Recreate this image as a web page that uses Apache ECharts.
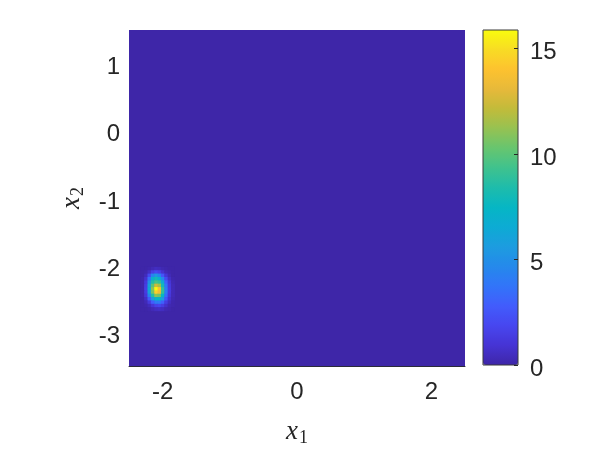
<!DOCTYPE html>
<html lang="en">
<head>
    <meta charset="UTF-8">
    <title>density</title>
    <script src="https://cdn.jsdelivr.net/npm/echarts@6/dist/echarts.min.js"></script>
    <style>
        html, body { margin: 0; padding: 0; background: #fff; }
    </style>
</head>
<body>
<div id="main" style="width: 598px;height: 461px"></div>
<script>
    // grid of the density around the peak, everything outside is 0
    var xCells = [-2.30, -2.25, -2.20, -2.15, -2.10, -2.05, -2.00, -1.95, -1.90, -1.85];
    var yCells = [-2.05, -2.10, -2.15, -2.20, -2.25, -2.30, -2.35, -2.40, -2.45, -2.50, -2.55, -2.60, -2.65];
    var density = [
        [0,   0,   0.1, 0.3,  0.5,  0.4,  0.2, 0.1, 0,   0  ],
        [0,   0.1, 0.6, 1.5,  2.0,  1.6,  0.8, 0.3, 0.1, 0  ],
        [0,   0.4, 2.0, 4.5,  5.5,  4.5,  2.5, 1.0, 0.3, 0  ],
        [0.1, 0.8, 3.5, 7.0,  8.0,  7.0,  4.5, 2.0, 0.6, 0.1],
        [0.1, 1.2, 5.0, 8.5,  9.5,  9.0,  6.5, 3.0, 1.0, 0.2],
        [0.1, 1.4, 6.0, 10.0, 12.5, 11.5, 8.0, 3.8, 1.2, 0.3],
        [0.1, 1.5, 6.5, 11.0, 15.9, 14.0, 9.0, 4.2, 1.3, 0.3],
        [0.1, 1.4, 6.0, 10.5, 14.5, 13.5, 9.0, 4.2, 1.3, 0.3],
        [0.1, 1.1, 4.5, 8.5,  11.0, 10.5, 7.5, 3.5, 1.1, 0.3],
        [0,   0.6, 2.8, 5.5,  7.5,  7.5,  5.5, 2.5, 0.8, 0.2],
        [0,   0.3, 1.2, 2.8,  4.0,  4.0,  3.0, 1.4, 0.5, 0.1],
        [0,   0.1, 0.4, 1.0,  1.6,  1.8,  1.4, 0.7, 0.2, 0.1],
        [0,   0,   0.1, 0.3,  0.5,  0.6,  0.5, 0.2, 0.1, 0  ]
    ];
    var cellSize = 0.05;
    var xRange = [-2.5, 2.5];
    var yRange = [-3.5, 1.5];
    var xTicks = [-2, 0, 2];
    var yTicks = [-3, -2, -1, 0, 1];
    var cbRange = [0, 15.87];
    var cbStep = 5; // colorbar ticks 0 5 10 15

    var parula = ['#3e26a8', '#4634d4', '#4746ef', '#425cfc', '#3274f9', '#2589eb', '#1d9cdf',
        '#0dabd4', '#06b6c4', '#1ebcab', '#3fc28e', '#67c56f', '#96c252', '#c2bb3a',
        '#e7b93a', '#fdc22f', '#f8dc24', '#f9fb0e'];

    var cells = [];
    for (var j = 0; j < yCells.length; j++) {
        for (var i = 0; i < xCells.length; i++) {
            cells.push([xCells[i], yCells[j], density[j][i]]);
        }
    }

    var txt = '#262626';
    var labelFont = {color: txt, fontSize: 24, fontFamily: 'Liberation Sans'};
    var lowered = {
        formatter: function (v) { return '{a|' + v + '}'; },
        rich: {a: Object.assign({padding: [8, 0, 0, 0]}, labelFont)}
    };
    var nameRich = {
        x: {fontFamily: 'Liberation Serif', fontStyle: 'italic', fontSize: 27, color: txt},
        s: {fontFamily: 'Liberation Serif', fontSize: 18, color: txt, padding: [13, 0, 0, 1]}
    };
    var chart = echarts.init(document.getElementById('main'));
    var option = {
        animation: false,
        backgroundColor: '#fff',
        grid: [
            {left: 129, top: 30, width: 336, height: 336, show: true,
                backgroundColor: parula[0], borderWidth: 0},
            {left: 483, top: 30, width: 35, height: 335, show: true, z: 10,
                backgroundColor: 'transparent', borderColor: '#3a3a3a', borderWidth: 1}
        ],
        xAxis: [
            {
                type: 'value', gridIndex: 0, min: xRange[0], max: xRange[1],
                splitLine: {show: false},
                axisTick: {show: false},
                axisLine: {show: true, onZero: false, lineStyle: {color: '#2b2b3a', width: 1}},
                axisLabel: Object.assign({customValues: xTicks, margin: 14}, labelFont),
                name: '{x|x}{s|1}',
                nameLocation: 'middle',
                nameGap: 50,
                nameTextStyle: {rich: nameRich}
            },
            {type: 'value', gridIndex: 1, min: 0, max: 1, show: false}
        ],
        yAxis: [
            {
                type: 'value', gridIndex: 0, min: yRange[0], max: yRange[1],
                splitLine: {show: false},
                axisTick: {show: false},
                axisLine: {show: false, onZero: false},
                axisLabel: Object.assign({customValues: yTicks, margin: 9}, lowered),
                name: '{x|x}{s|2}',
                nameLocation: 'middle',
                nameGap: 40,
                nameRotate: 90,
                nameTextStyle: {rich: nameRich}
            },
            {
                type: 'value', gridIndex: 1, position: 'right', min: cbRange[0], max: cbRange[1],
                interval: cbStep,
                z: 11,
                splitLine: {show: false},
                axisLine: {show: false, onZero: false},
                axisTick: {show: true, inside: true, length: 4, lineStyle: {color: txt}},
                axisLabel: Object.assign({margin: 12, showMaxLabel: false}, lowered)
            }
        ],
        visualMap: {
            type: 'continuous',
            seriesIndex: 0,
            dimension: 2,
            min: cbRange[0],
            max: cbRange[1],
            calculable: false,
            left: 483,
            top: 30,
            padding: 0,
            itemWidth: 35,
            itemHeight: 335,
            text: null,
            inRange: {color: parula}
        },
        series: [
            {
                type: 'custom',
                xAxisIndex: 0,
                yAxisIndex: 0,
                data: cells,
                renderItem: function (params, api) {
                    var p = api.coord([api.value(0), api.value(1)]);
                    var s = api.size([cellSize, cellSize]);
                    return {
                        type: 'rect',
                        shape: {x: p[0] - s[0] / 2, y: p[1] - s[1] / 2, width: s[0] + 0.6, height: s[1] + 0.6},
                        style: {fill: api.visual('color')}
                    };
                }
            }
        ]
    };
    chart.setOption(option);
</script>
</body>
</html>
